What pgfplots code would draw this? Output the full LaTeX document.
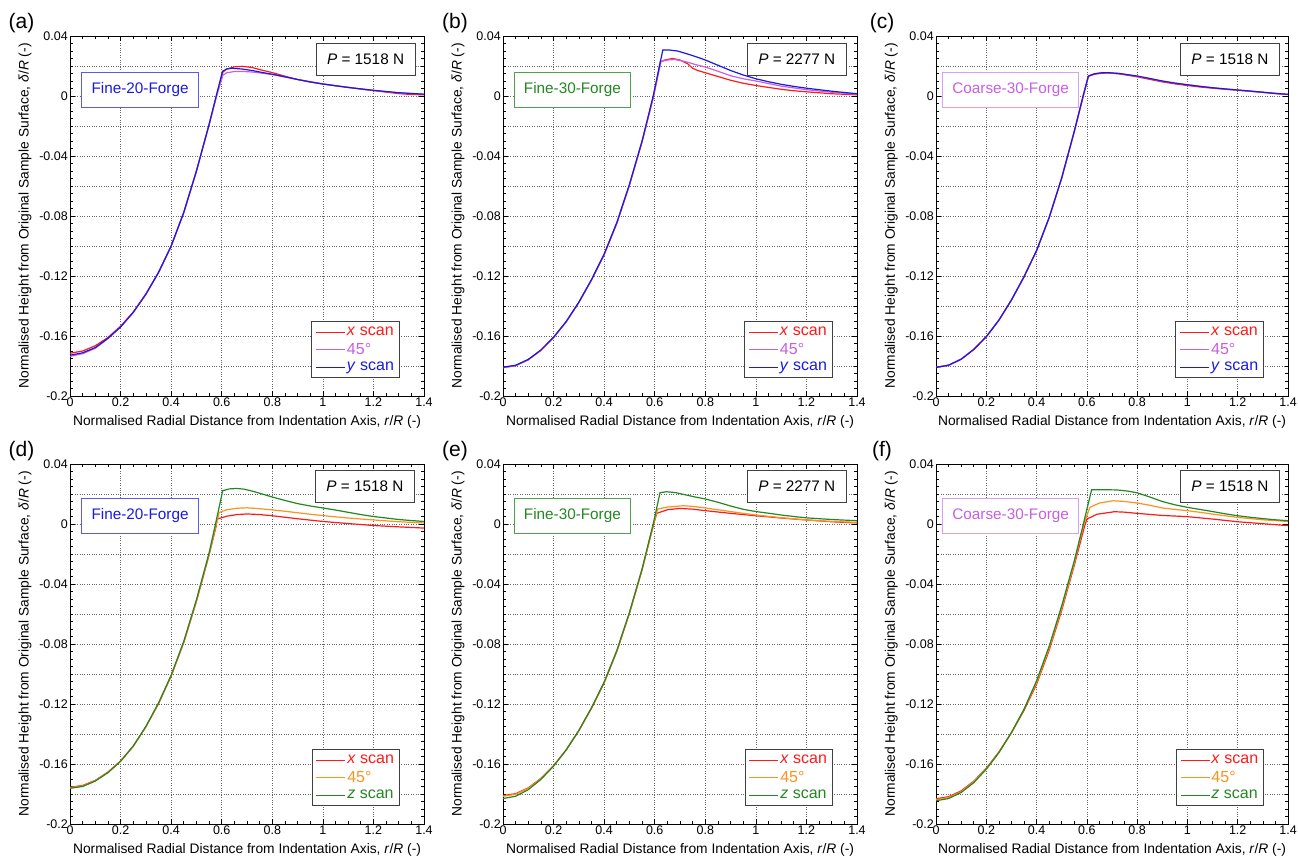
\documentclass[border=0pt]{standalone}
\usepackage{fontspec}
\setmainfont{Liberation Sans}
\usepackage{pgfplots}
\pgfplotsset{compat=1.18}
\definecolor{cred}{RGB}{255,25,25}
\definecolor{cviolet}{RGB}{200,95,225}
\definecolor{cblue}{RGB}{25,25,230}
\definecolor{corange}{RGB}{255,145,30}
\definecolor{cgreen}{RGB}{35,135,35}
\definecolor{bblue}{RGB}{90,90,235}
\definecolor{bgreen}{RGB}{80,160,80}
\definecolor{bviolet}{RGB}{215,160,240}
\pgfplotsset{
 panel/.style={
  scale only axis, width=354pt, height=360pt,
  xmin=0, xmax=1.4, ymin=-0.2, ymax=0.04,
  xtick={0,0.2,0.4,0.6,0.8,1,1.2,1.4},
  ytick={-0.2,-0.16,-0.12,-0.08,-0.04,0,0.04},
  minor x tick num=3, minor y tick num=7,
  extra y ticks={-0.18,-0.14,-0.1,-0.06,-0.02,0.02},
  extra y tick labels={},
  extra y tick style={grid=major, major tick length=3pt},
  grid=major, grid style={dotted, black!60, line width=0.6pt},
  tick align=inside, major tick length=5pt, minor tick length=3pt,
  every tick/.append style={black, line width=0.6pt},
  axis line style={line width=0.9pt},
  ticklabel style={font=\fontsize{12.5}{14}\selectfont},
  /pgf/number format/assume math mode=true,
  /pgf/number format/fixed, /pgf/number format/precision=2,
  xticklabel style={inner sep=1.5pt},
  yticklabel style={inner sep=2pt},
  xlabel={Normalised Radial Distance from Indentation Axis, \textit{r}/\textit{R} (-)},
  ylabel={Normalised Height from Original Sample Surface, \textit{δ}/\textit{R} (-)},
  label style={font=\fontsize{13.8}{16}\selectfont},
  xlabel style={at={(axis description cs:0.5,-0.072)}, anchor=center},
  ylabel style={at={(axis description cs:-0.127,0.5)}, anchor=center},
  legend style={at={(0.932,0.05)}, anchor=south east, draw=black!75, line width=0.8pt,
    font=\fontsize{16}{18}\selectfont, inner xsep=4pt, inner ysep=4pt,
    nodes={inner sep=1.5pt}, row sep=3pt,
    /tikz/every even column/.append style={column sep=3pt}},
  legend cell align=left,
  legend image code/.code={\draw[#1, line width=0.9pt] (0pt,0pt) -- (29pt,0pt);},
  every axis plot/.append style={line width=1.2pt},
 },
}
\tikzset{
 pbox/.style={draw=black!75, fill=white, line width=0.8pt, minimum width=99pt, minimum height=32pt, font=\fontsize{15.3}{17}\selectfont},
 lbox/.style={fill=white, line width=0.8pt, minimum height=35pt, inner xsep=10pt, font=\fontsize{15.3}{17}\selectfont},
}
\begin{document}
\begin{tikzpicture}
\useasboundingbox (0,0) rectangle (1298pt,-859pt);
\node[font=\fontsize{21}{24}\selectfont] at (21.5pt,-23pt) {(a)};
\node[font=\fontsize{21}{24}\selectfont] at (455pt,-23pt) {(b)};
\node[font=\fontsize{21}{24}\selectfont] at (882pt,-23pt) {(c)};
\node[font=\fontsize{21}{24}\selectfont] at (21.5pt,-451pt) {(d)};
\node[font=\fontsize{21}{24}\selectfont] at (455pt,-451pt) {(e)};
\node[font=\fontsize{21}{24}\selectfont] at (882pt,-451pt) {(f)};

% ---------------- (a)
\begin{axis}[panel, at={(70pt,-396pt)}, anchor=south west]
\addplot[cred] coordinates {(0,-0.1715) (0.05,-0.1700) (0.1,-0.1665) (0.15,-0.1610) (0.2,-0.1535) (0.25,-0.1440) (0.3,-0.1320) (0.35,-0.1175) (0.4,-0.1000) (0.45,-0.0775) (0.5,-0.0500) (0.55,-0.0190) (0.58,0.0005) (0.605,0.0160) (0.62,0.0180) (0.65,0.0194) (0.68,0.0198) (0.72,0.0190) (0.76,0.0172) (0.8,0.0156) (0.85,0.0132) (0.9,0.0110) (0.95,0.0093) (1.0,0.0080) (1.05,0.0068) (1.1,0.0058) (1.15,0.0046) (1.2,0.0036) (1.25,0.0026) (1.3,0.0016) (1.35,0.0010) (1.4,0.0008)};
\addlegendentry{\textcolor{cred}{\textit{x} scan}}
\addplot[cviolet] coordinates {(0,-0.1735) (0.05,-0.1718) (0.1,-0.1682) (0.15,-0.1618) (0.2,-0.1540) (0.25,-0.1443) (0.3,-0.1322) (0.35,-0.1177) (0.4,-0.1002) (0.45,-0.0778) (0.5,-0.0503) (0.55,-0.0193) (0.58,0.0002) (0.605,0.0140) (0.62,0.0155) (0.65,0.0163) (0.68,0.0164) (0.72,0.0160) (0.76,0.0152) (0.8,0.0143) (0.9,0.0110) (1.0,0.0081) (1.1,0.0057) (1.2,0.0037) (1.3,0.0021) (1.4,0.0012)};
\addlegendentry{\textcolor{cviolet}{45°}}
\addplot[cblue] coordinates {(0,-0.1728) (0.05,-0.1712) (0.1,-0.1677) (0.15,-0.1615) (0.2,-0.1540) (0.25,-0.1443) (0.3,-0.1322) (0.35,-0.1177) (0.4,-0.1001) (0.45,-0.0776) (0.5,-0.0500) (0.55,-0.0190) (0.579,0.0005) (0.603,0.0165) (0.62,0.0180) (0.64,0.0185) (0.68,0.0180) (0.72,0.0170) (0.76,0.0157) (0.8,0.0145) (0.85,0.0128) (0.9,0.0110) (0.95,0.0094) (1.0,0.0080) (1.1,0.0057) (1.2,0.0038) (1.3,0.0022) (1.4,0.0012)};
\addlegendentry{\textcolor{cblue}{\textit{y} scan}}
\node[pbox] at (rel axis cs:0.835,0.936) {\textit{P} = 1518 N};
\node[lbox, draw=bblue, text=cblue] at (rel axis cs:0.198,0.851) {Fine-20-Forge};
\end{axis}

% ---------------- (b)
\begin{axis}[panel, at={(503pt,-396pt)}, anchor=south west]
\addplot[cred] coordinates {(0,-0.1810) (0.05,-0.1797) (0.1,-0.1758) (0.15,-0.1695) (0.2,-0.1610) (0.25,-0.1505) (0.3,-0.1376) (0.35,-0.1227) (0.4,-0.1058) (0.45,-0.0850) (0.5,-0.0595) (0.55,-0.0305) (0.596,0.0000) (0.622,0.0228) (0.64,0.0240) (0.67,0.0250) (0.70,0.0240) (0.73,0.0215) (0.75,0.0185) (0.77,0.0170) (0.8,0.0155) (0.85,0.0130) (0.9,0.0105) (0.95,0.0085) (1.0,0.0070) (1.05,0.0057) (1.1,0.0045) (1.15,0.0035) (1.2,0.0028) (1.3,0.0015) (1.4,0.0008)};
\addlegendentry{\textcolor{cred}{\textit{x} scan}}
\addplot[cviolet] coordinates {(0,-0.1812) (0.05,-0.1798) (0.1,-0.1759) (0.15,-0.1696) (0.2,-0.1611) (0.25,-0.1506) (0.3,-0.1376) (0.35,-0.1226) (0.4,-0.1056) (0.45,-0.0847) (0.5,-0.0592) (0.55,-0.0303) (0.595,0.0000) (0.625,0.0230) (0.65,0.0240) (0.68,0.0243) (0.72,0.0230) (0.76,0.0210) (0.8,0.0193) (0.85,0.0165) (0.9,0.0135) (0.95,0.0115) (1.0,0.0100) (1.1,0.0066) (1.2,0.0042) (1.3,0.0025) (1.4,0.0012)};
\addlegendentry{\textcolor{cviolet}{45°}}
\addplot[cblue] coordinates {(0,-0.1808) (0.05,-0.1795) (0.1,-0.1756) (0.15,-0.1693) (0.2,-0.1608) (0.25,-0.1503) (0.3,-0.1374) (0.35,-0.1224) (0.4,-0.1054) (0.45,-0.0844) (0.5,-0.0589) (0.55,-0.0300) (0.594,0.0000) (0.632,0.0307) (0.66,0.0306) (0.69,0.0300) (0.73,0.0280) (0.77,0.0258) (0.8,0.0240) (0.85,0.0205) (0.9,0.0170) (0.95,0.0140) (1.0,0.0115) (1.05,0.0095) (1.1,0.0078) (1.15,0.0064) (1.2,0.0052) (1.3,0.0032) (1.4,0.0015)};
\addlegendentry{\textcolor{cblue}{\textit{y} scan}}
\node[pbox] at (rel axis cs:0.830,0.936) {\textit{P} = 2277 N};
\node[lbox, draw=bgreen, text=cgreen] at (rel axis cs:0.196,0.850) {Fine-30-Forge};
\end{axis}

% ---------------- (c)
\begin{axis}[panel, width=352pt, at={(936pt,-396pt)}, anchor=south west]
\addplot[cred] coordinates {(0,-0.1808) (0.05,-0.1794) (0.1,-0.1754) (0.15,-0.1689) (0.2,-0.1604) (0.25,-0.1494) (0.3,-0.1360) (0.35,-0.1206) (0.4,-0.1032) (0.45,-0.0812) (0.5,-0.0548) (0.55,-0.0238) (0.586,0.0000) (0.606,0.0131) (0.63,0.0145) (0.66,0.0152) (0.69,0.0153) (0.73,0.0147) (0.8,0.0128) (0.85,0.0111) (0.9,0.0094) (0.95,0.0081) (1.0,0.0070) (1.05,0.0060) (1.1,0.0052) (1.15,0.0045) (1.2,0.0038) (1.25,0.0031) (1.3,0.0024) (1.35,0.0016) (1.4,0.0010)};
\addlegendentry{\textcolor{cred}{\textit{x} scan}}
\addplot[cviolet] coordinates {(0,-0.1810) (0.05,-0.1795) (0.1,-0.1755) (0.15,-0.1690) (0.2,-0.1605) (0.25,-0.1495) (0.3,-0.1360) (0.35,-0.1205) (0.4,-0.1030) (0.45,-0.0810) (0.5,-0.0545) (0.55,-0.0235) (0.585,0.0000) (0.606,0.0133) (0.63,0.0148) (0.66,0.0155) (0.69,0.0155) (0.73,0.0150) (0.8,0.0132) (0.85,0.0116) (0.9,0.0099) (0.95,0.0086) (1.0,0.0075) (1.1,0.0055) (1.2,0.0040) (1.3,0.0025) (1.4,0.0011)};
\addlegendentry{\textcolor{cviolet}{45°}}
\addplot[cblue] coordinates {(0,-0.1810) (0.05,-0.1795) (0.1,-0.1755) (0.15,-0.1690) (0.2,-0.1605) (0.25,-0.1495) (0.3,-0.1360) (0.35,-0.1205) (0.4,-0.1030) (0.45,-0.0810) (0.5,-0.0545) (0.55,-0.0235) (0.585,0.0000) (0.606,0.0133) (0.63,0.0148) (0.66,0.0155) (0.69,0.0155) (0.73,0.0150) (0.8,0.0133) (0.85,0.0117) (0.9,0.0100) (0.95,0.0086) (1.0,0.0075) (1.05,0.0064) (1.1,0.0055) (1.15,0.0047) (1.2,0.0040) (1.25,0.0033) (1.3,0.0025) (1.35,0.0017) (1.4,0.0011)};
\addlegendentry{\textcolor{cblue}{\textit{y} scan}}
\node[pbox] at (rel axis cs:0.835,0.936) {\textit{P} = 1518 N};
\node[lbox, draw=bviolet, text=cviolet] at (rel axis cs:0.212,0.851) {Coarse-30-Forge};
\end{axis}

% ---------------- (d)
\begin{axis}[panel, at={(70pt,-824pt)}, anchor=south west]
\addplot[cred] coordinates {(0,-0.1755) (0.05,-0.1743) (0.1,-0.1709) (0.15,-0.1654) (0.2,-0.1580) (0.25,-0.1481) (0.3,-0.1352) (0.35,-0.1198) (0.4,-0.1014) (0.45,-0.0790) (0.5,-0.0516) (0.55,-0.0207) (0.578,-0.0015) (0.582,0.0033) (0.62,0.0052) (0.66,0.0063) (0.70,0.0067) (0.75,0.0063) (0.8,0.0055) (0.85,0.0045) (0.9,0.0035) (0.95,0.0026) (1.0,0.0017) (1.1,0.0003) (1.2,-0.0010) (1.3,-0.0019) (1.4,-0.0027)};
\addlegendentry{\textcolor{cred}{\textit{x} scan}}
\addplot[corange] coordinates {(0,-0.1758) (0.05,-0.1746) (0.1,-0.1711) (0.15,-0.1656) (0.2,-0.1581) (0.25,-0.1482) (0.3,-0.1352) (0.35,-0.1197) (0.4,-0.1012) (0.45,-0.0787) (0.5,-0.0512) (0.55,-0.0202) (0.578,-0.0005) (0.59,0.0077) (0.62,0.0095) (0.66,0.0105) (0.70,0.0108) (0.75,0.0102) (0.8,0.0094) (0.85,0.0085) (0.9,0.0075) (0.95,0.0065) (1.0,0.0056) (1.1,0.0040) (1.2,0.0027) (1.3,0.0015) (1.4,0.0007)};
\addlegendentry{\textcolor{corange}{45°}}
\addplot[cgreen] coordinates {(0,-0.1762) (0.05,-0.1750) (0.1,-0.1714) (0.15,-0.1658) (0.2,-0.1582) (0.25,-0.1481) (0.3,-0.1350) (0.35,-0.1194) (0.4,-0.1008) (0.45,-0.0782) (0.5,-0.0505) (0.55,-0.0193) (0.576,0.0005) (0.604,0.0222) (0.63,0.0234) (0.66,0.0237) (0.69,0.0232) (0.73,0.0215) (0.77,0.0195) (0.8,0.0180) (0.85,0.0157) (0.9,0.0136) (0.95,0.0120) (1.0,0.0107) (1.05,0.0093) (1.1,0.0078) (1.15,0.0063) (1.2,0.0050) (1.25,0.0040) (1.3,0.0030) (1.35,0.0023) (1.4,0.0017)};
\addlegendentry{\textcolor{cgreen}{\textit{z} scan}}
\node[pbox] at (rel axis cs:0.833,0.939) {\textit{P} = 1518 N};
\node[lbox, draw=bblue, text=cblue] at (rel axis cs:0.198,0.856) {Fine-20-Forge};
\end{axis}

% ---------------- (e)
\begin{axis}[panel, at={(503pt,-824pt)}, anchor=south west]
\addplot[cred] coordinates {(0,-0.1810) (0.05,-0.1798) (0.1,-0.1759) (0.15,-0.1696) (0.2,-0.1611) (0.25,-0.1506) (0.3,-0.1377) (0.35,-0.1228) (0.4,-0.1059) (0.45,-0.0850) (0.5,-0.0596) (0.55,-0.0306) (0.596,0.0000) (0.608,0.0071) (0.65,0.0095) (0.70,0.0104) (0.75,0.0099) (0.8,0.0089) (0.85,0.0080) (0.9,0.0071) (0.95,0.0063) (1.0,0.0055) (1.1,0.0040) (1.2,0.0027) (1.3,0.0015) (1.4,0.0007)};
\addlegendentry{\textcolor{cred}{\textit{x} scan}}
\addplot[corange] coordinates {(0,-0.1815) (0.05,-0.1802) (0.1,-0.1762) (0.15,-0.1698) (0.2,-0.1612) (0.25,-0.1506) (0.3,-0.1377) (0.35,-0.1227) (0.4,-0.1057) (0.45,-0.0847) (0.5,-0.0593) (0.55,-0.0303) (0.595,0.0000) (0.612,0.0100) (0.65,0.0113) (0.713,0.0122) (0.76,0.0116) (0.8,0.0107) (0.85,0.0095) (0.9,0.0083) (0.95,0.0071) (1.0,0.0060) (1.1,0.0042) (1.2,0.0027) (1.3,0.0017) (1.4,0.0011)};
\addlegendentry{\textcolor{corange}{45°}}
\addplot[cgreen] coordinates {(0,-0.1830) (0.05,-0.1815) (0.1,-0.1771) (0.15,-0.1703) (0.2,-0.1614) (0.25,-0.1506) (0.3,-0.1376) (0.35,-0.1225) (0.4,-0.1054) (0.45,-0.0844) (0.5,-0.0589) (0.55,-0.0299) (0.594,0.0000) (0.621,0.0209) (0.647,0.0215) (0.68,0.0210) (0.72,0.0195) (0.76,0.0180) (0.8,0.0167) (0.85,0.0145) (0.9,0.0120) (0.95,0.0098) (1.0,0.0083) (1.05,0.0072) (1.1,0.0060) (1.15,0.0050) (1.2,0.0041) (1.3,0.0030) (1.4,0.0022)};
\addlegendentry{\textcolor{cgreen}{\textit{z} scan}}
\node[pbox] at (rel axis cs:0.830,0.939) {\textit{P} = 2277 N};
\node[lbox, draw=bgreen, text=cgreen] at (rel axis cs:0.196,0.856) {Fine-30-Forge};
\end{axis}

% ---------------- (f)
\begin{axis}[panel, width=352pt, at={(936pt,-824pt)}, anchor=south west]
\addplot[cred] coordinates {(0,-0.1832) (0.05,-0.1818) (0.1,-0.1779) (0.15,-0.1715) (0.2,-0.1628) (0.25,-0.1520) (0.3,-0.1392) (0.35,-0.1243) (0.4,-0.1068) (0.45,-0.0842) (0.5,-0.0575) (0.55,-0.0275) (0.59,-0.0020) (0.600,0.0033) (0.64,0.0065) (0.71,0.0082) (0.75,0.0079) (0.8,0.0071) (0.85,0.0064) (0.9,0.0057) (1.0,0.0049) (1.1,0.0033) (1.2,0.0015) (1.3,0.0002) (1.4,-0.0011)};
\addlegendentry{\textcolor{cred}{\textit{x} scan}}
\addplot[corange] coordinates {(0,-0.1838) (0.05,-0.1823) (0.1,-0.1784) (0.15,-0.1719) (0.2,-0.1631) (0.25,-0.1522) (0.3,-0.1390) (0.35,-0.1237) (0.4,-0.1058) (0.45,-0.0830) (0.5,-0.0562) (0.55,-0.0262) (0.588,0.0000) (0.612,0.0111) (0.65,0.0140) (0.705,0.0155) (0.75,0.0150) (0.8,0.0140) (0.85,0.0125) (0.9,0.0107) (0.95,0.0097) (1.0,0.0089) (1.05,0.0078) (1.1,0.0066) (1.15,0.0055) (1.2,0.0044) (1.3,0.0028) (1.4,0.0017)};
\addlegendentry{\textcolor{corange}{45°}}
\addplot[cgreen] coordinates {(0,-0.1845) (0.05,-0.1830) (0.1,-0.1790) (0.15,-0.1725) (0.2,-0.1635) (0.25,-0.1525) (0.3,-0.1390) (0.35,-0.1235) (0.4,-0.1045) (0.45,-0.0815) (0.5,-0.0545) (0.55,-0.0245) (0.586,0.0000) (0.619,0.0229) (0.66,0.0229) (0.72,0.0227) (0.76,0.0220) (0.8,0.0208) (0.85,0.0180) (0.9,0.0150) (0.95,0.0128) (1.0,0.0111) (1.05,0.0097) (1.1,0.0083) (1.15,0.0068) (1.2,0.0055) (1.25,0.0045) (1.3,0.0036) (1.35,0.0028) (1.4,0.0022)};
\addlegendentry{\textcolor{cgreen}{\textit{z} scan}}
\node[pbox] at (rel axis cs:0.835,0.939) {\textit{P} = 1518 N};
\node[lbox, draw=bviolet, text=cviolet] at (rel axis cs:0.212,0.856) {Coarse-30-Forge};
\end{axis}
\end{tikzpicture}
\end{document}
